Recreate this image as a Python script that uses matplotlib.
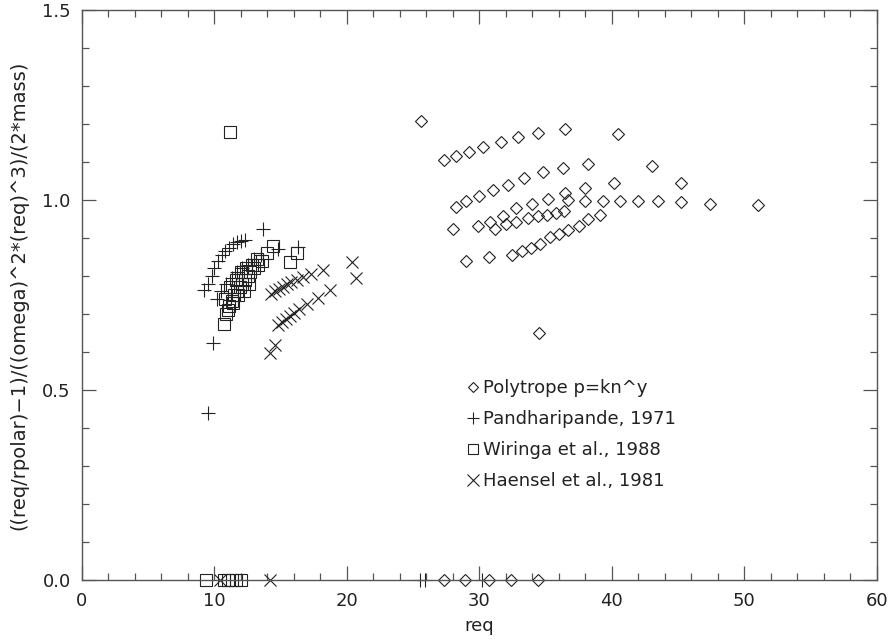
import matplotlib
matplotlib.use("Agg")
import matplotlib.pyplot as plt
from matplotlib.ticker import MultipleLocator, FormatStrFormatter

# polytrope models p = k n^gamma
poly_req = [25.6, 27.3, 28.2, 29.2, 30.3, 31.6, 32.9, 34.4, 36.5, 40.5, 43.0, 45.2, 47.4, 51.0,
            28.2, 29.0, 30.0, 31.0, 32.2, 33.4, 34.8, 36.3, 38.2, 40.2, 45.2,
            28.0, 29.9, 30.8, 31.8, 32.8, 34.0, 35.2, 36.5, 38.0,
            36.7, 38.0, 39.3, 40.6, 42.0, 43.5,
            31.2, 32.0, 32.8, 33.7, 34.4, 35.1, 35.8, 36.4,
            35.3, 36.0, 36.7, 37.5, 38.2, 39.1,
            29.0, 30.7, 32.5, 33.2, 33.9, 34.6,
            34.5,
            27.3, 28.9, 30.7, 32.4, 34.4]
poly_val = [1.208, 1.105, 1.116, 1.127, 1.140, 1.153, 1.165, 1.178, 1.186, 1.175, 1.090, 1.044, 0.991, 0.987,
            0.982, 0.997, 1.011, 1.026, 1.039, 1.057, 1.075, 1.085, 1.096, 1.046, 0.996,
            0.924, 0.932, 0.943, 0.958, 0.978, 0.991, 1.004, 1.018, 1.031,
            1.000, 0.997, 0.997, 0.997, 0.997, 0.997,
            0.925, 0.937, 0.943, 0.952, 0.958, 0.962, 0.965, 0.971,
            0.904, 0.912, 0.921, 0.932, 0.949, 0.961,
            0.840, 0.850, 0.855, 0.865, 0.875, 0.885,
            0.650,
            0.0, 0.0, 0.0, 0.0, 0.0]

# Pandharipande 1971
pand_req = [9.2, 9.5, 9.8, 10.0, 10.3, 10.6, 10.8, 11.1, 11.4, 11.7, 12.0, 12.3, 13.7,
            10.2, 10.5, 10.9, 11.3, 11.7, 12.1, 12.5, 13.0, 13.5, 14.8, 16.3,
            9.9, 9.5, 25.5, 25.9, 30.2]
pand_val = [0.763, 0.780, 0.800, 0.820, 0.840, 0.855, 0.865, 0.875, 0.885, 0.890, 0.893, 0.896, 0.925,
            0.740, 0.760, 0.780, 0.795, 0.810, 0.820, 0.830, 0.845, 0.855, 0.870, 0.877,
            0.623, 0.440, 0.0, 0.0, 0.0]

# Wiringa et al. 1988
wir_req = [10.7, 10.9, 11.1, 11.3, 11.5, 11.7, 11.9, 12.1, 12.3, 12.5, 12.7, 13.0, 13.3, 13.6, 14.0, 14.4,
           10.8, 11.2, 11.6, 12.0, 12.4, 12.8, 13.2,
           11.0, 11.4, 11.8, 12.2, 12.6,
           15.7, 16.2, 11.2,
           9.4, 10.7, 11.0, 11.3, 11.6, 12.0]
wir_val = [0.675, 0.700, 0.720, 0.735, 0.750, 0.760, 0.770, 0.780, 0.790, 0.800, 0.810, 0.820, 0.830, 0.840, 0.860, 0.880,
           0.740, 0.770, 0.790, 0.810, 0.820, 0.830, 0.845,
           0.710, 0.730, 0.750, 0.760, 0.780,
           0.838, 0.860, 1.180,
           0.0, 0.0, 0.0, 0.0, 0.0, 0.0]

# Haensel et al. 1981
haen_req = [14.3, 14.6, 14.9, 15.2, 15.5, 15.8, 16.2, 16.7, 17.3, 18.2, 20.35, 20.7,
            14.2, 14.6, 14.8, 15.1, 15.4, 15.7, 16.0, 16.4, 17.0, 17.8, 18.7,
            10.4, 14.2]
haen_val = [0.754, 0.760, 0.766, 0.772, 0.778, 0.784, 0.790, 0.797, 0.805, 0.816, 0.838, 0.794,
            0.597, 0.618, 0.671, 0.680, 0.688, 0.695, 0.702, 0.712, 0.726, 0.743, 0.763,
            0.0, 0.0]

ink = '#222222'
frame = '#555555'

fig = plt.figure(figsize=(8.91, 6.4), dpi=100)
ax = fig.add_axes([0.092, 0.094, 0.892, 0.890])

ax.plot(poly_req, poly_val, linestyle='none', marker='D', ms=6.0, mfc='none', mec=ink, mew=0.8,
        label='Polytrope p=kn^y', clip_on=False)
ax.plot(pand_req, pand_val, linestyle='none', marker='+', ms=10, mec=ink, mew=0.8,
        label='Pandharipande, 1971', clip_on=False)
ax.plot(wir_req, wir_val, linestyle='none', marker='s', ms=8.5, mfc='none', mec=ink, mew=0.8,
        label='Wiringa et al., 1988', clip_on=False)
ax.plot(haen_req, haen_val, linestyle='none', marker='x', ms=9, mec=ink, mew=0.8,
        label='Haensel et al., 1981', clip_on=False)

ax.set_xlim(0, 60)
ax.set_ylim(0, 1.5)
ax.xaxis.set_major_locator(MultipleLocator(10))
ax.xaxis.set_minor_locator(MultipleLocator(2))
ax.yaxis.set_major_locator(MultipleLocator(0.5))
ax.yaxis.set_minor_locator(MultipleLocator(0.1))
ax.xaxis.set_major_formatter(FormatStrFormatter('%d'))
ax.yaxis.set_major_formatter(FormatStrFormatter('%.1f'))
ax.tick_params(which='both', direction='in', top=True, right=True, color=frame,
               labelsize=13, labelcolor=ink, width=0.9)
ax.tick_params(axis='x', pad=9)
ax.tick_params(axis='y', pad=8)
ax.tick_params(which='major', length=10)
ax.tick_params(which='minor', length=5)
for s in ax.spines.values():
    s.set_color(frame)
    s.set_linewidth(1.0)

ax.set_xlabel('req', fontsize=13, color=ink, labelpad=5)
ax.set_ylabel('((req/rpolar)\u22121)/((omega)^2*(req)^3)/(2*mass)', fontsize=14, color=ink, labelpad=10)

ax.legend(loc='upper left', bbox_to_anchor=(0.484, 0.352), frameon=False, fontsize=13,
          handlelength=0.7, handletextpad=0.2, labelspacing=0.72, borderaxespad=0, borderpad=0,
          labelcolor=ink, markerscale=0.9)

fig.savefig('out.png', dpi=100)
